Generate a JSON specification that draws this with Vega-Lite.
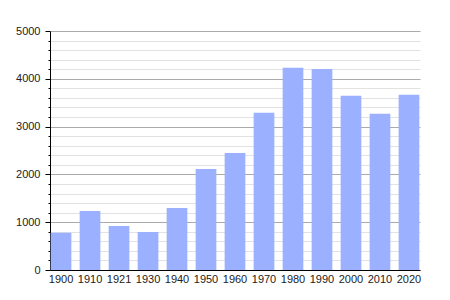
{
  "$schema": "https://vega.github.io/schema/vega-lite/v6.json",
  "width": 370,
  "height": 239,
  "autosize": "none",
  "padding": {"left": 50, "top": 31, "right": 30, "bottom": 30},
  "background": "white",
  "config": {"view": {"stroke": null}},
  "data": {"values": [
    {"year": "1900", "population": 780},
    {"year": "1910", "population": 1234},
    {"year": "1921", "population": 920},
    {"year": "1930", "population": 795},
    {"year": "1940", "population": 1297},
    {"year": "1950", "population": 2113},
    {"year": "1960", "population": 2448},
    {"year": "1970", "population": 3291},
    {"year": "1980", "population": 4232},
    {"year": "1990", "population": 4205},
    {"year": "2000", "population": 3646},
    {"year": "2010", "population": 3270},
    {"year": "2020", "population": 3667}
  ]},
  "mark": {"type": "bar", "color": "#9bb0ff"},
  "encoding": {
    "x": {
      "field": "year", "type": "ordinal",
      "scale": {"paddingInner": 0.286, "paddingOuter": 0.023},
      "axis": {"title": null, "labelAngle": 0, "ticks": false, "domainColor": "#000000", "domainWidth": 1,
               "labelFont": "Liberation Sans", "labelFontSize": 11, "labelColor": "#222222", "labelPadding": 3, "grid": false}
    },
    "y": {
      "field": "population", "type": "quantitative",
      "scale": {"domain": [0, 5000], "nice": false},
      "axis": {
        "title": null,
        "values": [0,200,400,600,800,1000,1200,1400,1600,1800,2000,2200,2400,2600,2800,3000,3200,3400,3600,3800,4000,4200,4400,4600,4800,5000],
        "format": "d",
        "labelExpr": "datum.value % 1000 === 0 ? datum.label : ''",
        "grid": true,
        "gridColor": {"condition": {"test": "datum.value % 1000 === 0", "value": "#aaaaaa"}, "value": "#e2e2e2"},
        "tickSize": {"condition": {"test": "datum.value % 1000 === 0", "value": 5}, "value": 2},
        "tickColor": "#000000",
        "domainColor": "#000000",
        "labelFont": "Liberation Sans", "labelFontSize": 11, "labelColor": "#222222",
        "labelPadding": 5
      }
    }
  }
}
